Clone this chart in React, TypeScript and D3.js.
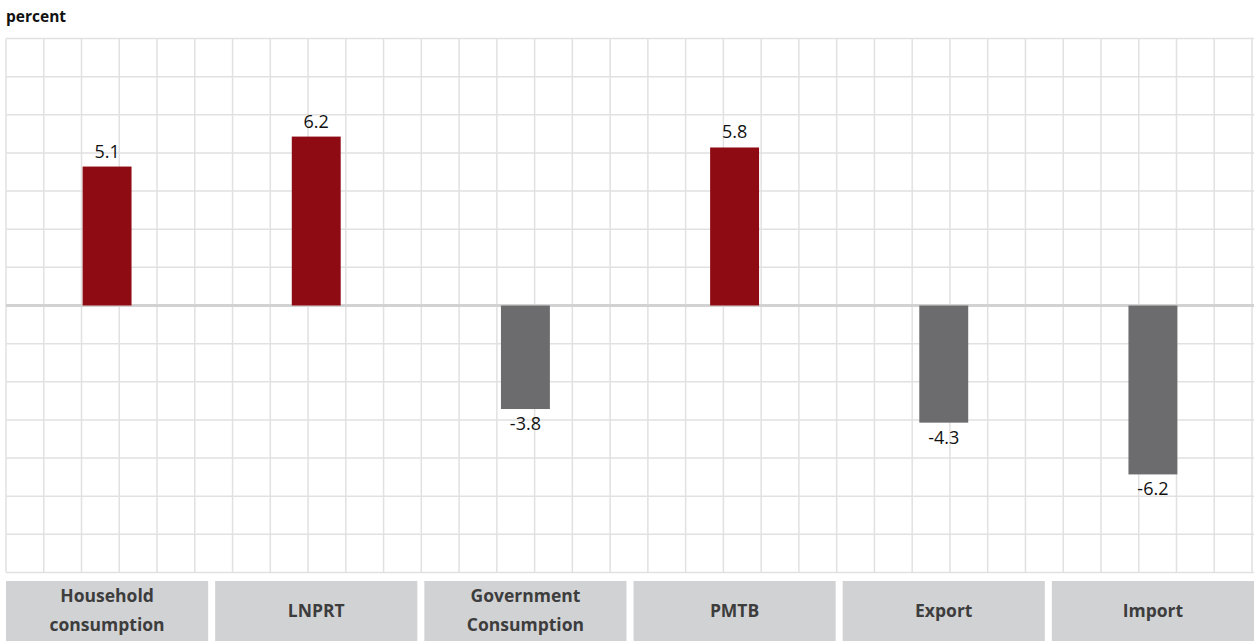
import { useEffect, useRef } from "react";
import * as d3 from "d3";

// ── Data ──────────────────────────────────────────────────────────────────────

const CATEGORIES = [
  ["Household", "consumption"],
  ["LNPRT"],
  ["Government", "Consumption"],
  ["PMTB"],
  ["Export"],
  ["Import"],
];
const VALUES = [5.1, 6.2, -3.8, 5.8, -4.3, -6.2];
const Y_DOMAIN = [-9.8, 9.8];

// ── Tokens ────────────────────────────────────────────────────────────────────

const RED   = "#8f0b14";
const GRAY  = "#6c6c6e";
const GRID  = "#e1e1e1";
const ZERO  = "#d2d2d2";
const BOX   = "#d1d2d4";
const BOXFG = "#3d3d3d";
const FONT  = "'Open Sans', Lato, sans-serif";

const W = 1254, H = 641;

export default function App() {
  const svgRef = useRef<SVGSVGElement>(null);

  useEffect(() => {
    if (!svgRef.current) return;
    document.body.style.margin = "0";

    const left = 6, right = 1254, top = 38.5, bottom = 572.5;
    const svg = d3.select(svgRef.current);
    svg.selectAll("*").remove();

    const keys = CATEGORIES.map(c => c.join(" "));
    const x = d3.scaleBand()
      .domain(keys)
      .range([left, right])
      .paddingInner(0.0335)
      .paddingOuter(0);

    const y = d3.scaleLinear().domain(Y_DOMAIN).range([bottom, top]);

    // Title
    svg.append("text")
      .attr("x", 6).attr("y", 22)
      .attr("font-family", FONT)
      .attr("font-weight", 700)
      .attr("font-size", "15.5px")
      .attr("fill", "#111")
      .text("percent");

    // Grid — 33 columns, 14 rows
    const cols = d3.range(34).map(i => left + (i * (1252 - left)) / 33);
    const rows = d3.range(15).map(i => top + (i * (bottom - top)) / 14);

    svg.append("g")
      .selectAll("line")
      .data(cols)
      .join("line")
      .attr("x1", d => d).attr("x2", d => d)
      .attr("y1", top).attr("y2", bottom)
      .attr("stroke", GRID)
      .attr("stroke-width", 1.5);

    svg.append("g")
      .selectAll("line")
      .data(rows)
      .join("line")
      .attr("x1", left).attr("x2", right)
      .attr("y1", d => d).attr("y2", d => d)
      .attr("stroke", GRID)
      .attr("stroke-width", 1.5);

    // Zero line
    svg.append("line")
      .attr("x1", left).attr("x2", right)
      .attr("y1", y(0)).attr("y2", y(0))
      .attr("stroke", ZERO)
      .attr("stroke-width", 3);

    // Bars
    const bw = x.bandwidth() * 0.242;
    const data = keys.map((k, i) => ({ key: k, v: VALUES[i] }));

    svg.append("g")
      .selectAll("rect")
      .data(data)
      .join("rect")
      .attr("x", d => x(d.key)! + x.bandwidth() / 2 - bw / 2)
      .attr("y", d => y(Math.max(0, d.v)))
      .attr("width", bw)
      .attr("height", d => Math.abs(y(d.v) - y(0)))
      .attr("fill", d => d.v >= 0 ? RED : GRAY);

    // Value labels
    svg.append("g")
      .selectAll("text")
      .data(data)
      .join("text")
      .attr("x", d => x(d.key)! + x.bandwidth() / 2)
      .attr("y", d => d.v >= 0 ? y(d.v) - 9 : y(d.v) + 21)
      .attr("text-anchor", "middle")
      .attr("font-family", FONT)
      .attr("font-size", "18px")
      .attr("fill", "#111")
      .text(d => d.v.toFixed(1));

    // Category boxes
    const boxes = svg.append("g")
      .selectAll("g")
      .data(CATEGORIES)
      .join("g")
      .attr("transform", (_, i) => `translate(${x(keys[i])},581)`);

    boxes.append("rect")
      .attr("width", x.bandwidth())
      .attr("height", 60)
      .attr("fill", BOX);

    boxes.each(function (lines) {
      const g = d3.select(this);
      const lh = 29;
      const y0 = 31 - ((lines.length - 1) * lh) / 2;
      lines.forEach((t, j) => {
        g.append("text")
          .attr("x", x.bandwidth() / 2)
          .attr("y", y0 + j * lh)
          .attr("text-anchor", "middle")
          .attr("dominant-baseline", "middle")
          .attr("font-family", FONT)
          .attr("font-weight", 700)
          .attr("font-size", "17.5px")
          .attr("fill", BOXFG)
          .text(t);
      });
    });
  }, []);

  return (
    <svg
      ref={svgRef}
      width={W}
      height={H}
      viewBox={`0 0 ${W} ${H}`}
      style={{ position: "absolute", left: 0, top: 0, background: "#fff" }}
    />
  );
}
